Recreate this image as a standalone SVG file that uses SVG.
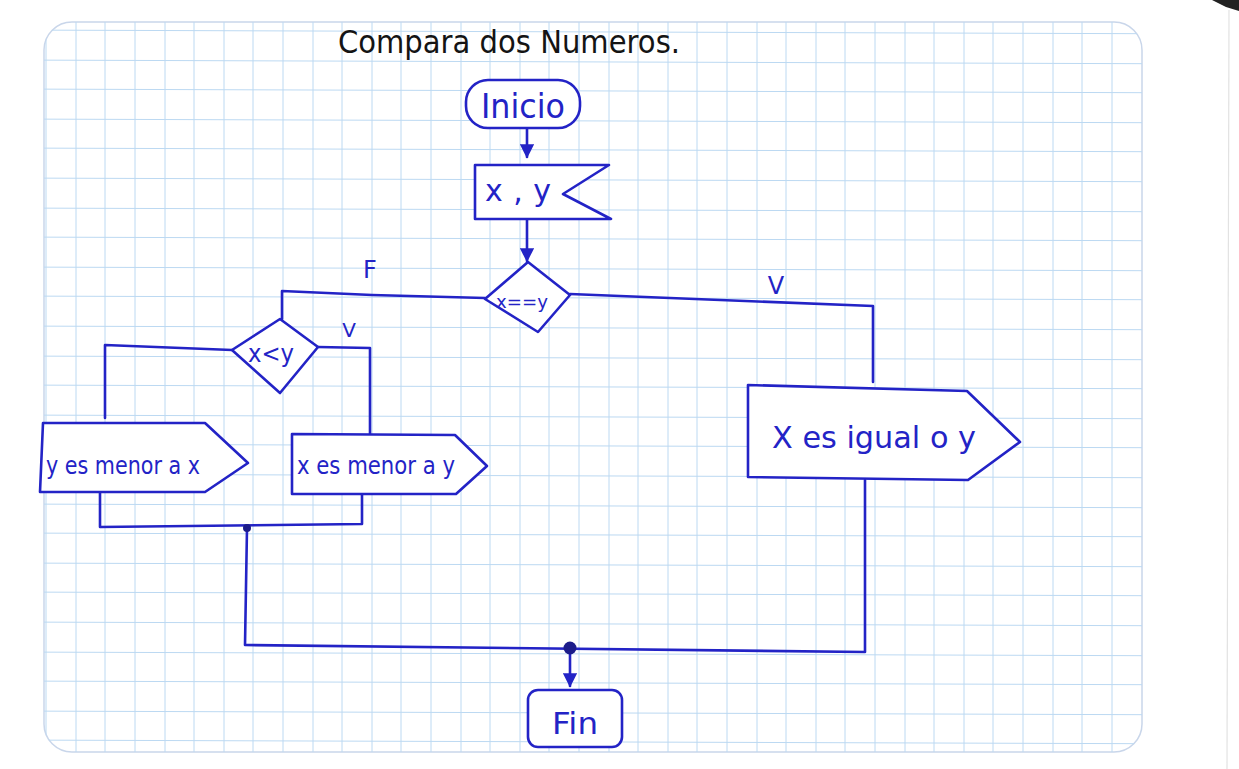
<svg xmlns="http://www.w3.org/2000/svg" width="1239" height="769" viewBox="0 0 1239 769">
<defs>
  <style>
    .grid line { stroke: #bcd9f2; stroke-width: 1; }
    .ink { fill: none; stroke: #2323c6; stroke-width: 2.6; stroke-linejoin: round; stroke-linecap: round; }
    .shape { fill: #ffffff; stroke: #2323c6; stroke-width: 2.6; stroke-linejoin: round; }
    .lbl { font-family: "DejaVu Sans", "Liberation Sans", sans-serif; fill: #2323c6; }
    .title { font-family: "DejaVu Sans", "Liberation Sans", sans-serif; fill: #141414; }
  </style>
  <marker id="arr" viewBox="0 0 10 10" refX="9" refY="5" markerWidth="5.5" markerHeight="5.5" orient="auto">
    <path d="M0,0 L10,5 L0,10 z" fill="#2323c6"/>
  </marker>
  <clipPath id="paper">
    <rect x="44" y="22" width="1098" height="730" rx="28"/>
  </clipPath>
</defs>

<rect width="1239" height="769" fill="#ffffff"/>
<polygon points="1212,0 1239,0 1239,11 1226,7" fill="#222"/>
<line x1="1229" y1="10" x2="1227" y2="769" stroke="#e2e2e2" stroke-width="1.2"/>

<g id="paper-sheet">
  <rect x="44" y="22" width="1098" height="730" rx="28" fill="#ffffff" stroke="#c9d6ea" stroke-width="1.5"/>
  <g class="grid" clip-path="url(#paper)">
    <line x1="46" y1="0" x2="46" y2="769"/><line x1="76" y1="0" x2="76" y2="769"/><line x1="105" y1="0" x2="105" y2="769"/><line x1="135" y1="0" x2="135" y2="769"/><line x1="165" y1="0" x2="165" y2="769"/><line x1="194" y1="0" x2="194" y2="769"/><line x1="224" y1="0" x2="224" y2="769"/><line x1="253" y1="0" x2="253" y2="769"/><line x1="283" y1="0" x2="283" y2="769"/><line x1="313" y1="0" x2="313" y2="769"/><line x1="342" y1="0" x2="342" y2="769"/><line x1="372" y1="0" x2="372" y2="769"/><line x1="401" y1="0" x2="401" y2="769"/><line x1="431" y1="0" x2="431" y2="769"/><line x1="461" y1="0" x2="461" y2="769"/><line x1="490" y1="0" x2="490" y2="769"/><line x1="520" y1="0" x2="520" y2="769"/><line x1="549" y1="0" x2="549" y2="769"/><line x1="579" y1="0" x2="579" y2="769"/><line x1="609" y1="0" x2="609" y2="769"/><line x1="638" y1="0" x2="638" y2="769"/><line x1="668" y1="0" x2="668" y2="769"/><line x1="697" y1="0" x2="697" y2="769"/><line x1="727" y1="0" x2="727" y2="769"/><line x1="757" y1="0" x2="757" y2="769"/><line x1="786" y1="0" x2="786" y2="769"/><line x1="816" y1="0" x2="816" y2="769"/><line x1="845" y1="0" x2="845" y2="769"/><line x1="875" y1="0" x2="875" y2="769"/><line x1="905" y1="0" x2="905" y2="769"/><line x1="934" y1="0" x2="934" y2="769"/><line x1="964" y1="0" x2="964" y2="769"/><line x1="993" y1="0" x2="993" y2="769"/><line x1="1023" y1="0" x2="1023" y2="769"/><line x1="1053" y1="0" x2="1053" y2="769"/><line x1="1082" y1="0" x2="1082" y2="769"/><line x1="1112" y1="0" x2="1112" y2="769"/>
    <line x1="0" y1="30" x2="1239" y2="34"/><line x1="0" y1="60" x2="1239" y2="64"/><line x1="0" y1="89" x2="1239" y2="93"/><line x1="0" y1="119" x2="1239" y2="123"/><line x1="0" y1="148" x2="1239" y2="152"/><line x1="0" y1="178" x2="1239" y2="182"/><line x1="0" y1="208" x2="1239" y2="212"/><line x1="0" y1="237" x2="1239" y2="241"/><line x1="0" y1="267" x2="1239" y2="271"/><line x1="0" y1="296" x2="1239" y2="300"/><line x1="0" y1="326" x2="1239" y2="330"/><line x1="0" y1="356" x2="1239" y2="360"/><line x1="0" y1="385" x2="1239" y2="389"/><line x1="0" y1="415" x2="1239" y2="419"/><line x1="0" y1="444" x2="1239" y2="448"/><line x1="0" y1="474" x2="1239" y2="478"/><line x1="0" y1="504" x2="1239" y2="508"/><line x1="0" y1="533" x2="1239" y2="537"/><line x1="0" y1="563" x2="1239" y2="567"/><line x1="0" y1="592" x2="1239" y2="596"/><line x1="0" y1="622" x2="1239" y2="626"/><line x1="0" y1="652" x2="1239" y2="656"/><line x1="0" y1="681" x2="1239" y2="685"/><line x1="0" y1="711" x2="1239" y2="715"/><line x1="0" y1="740" x2="1239" y2="744"/>
  </g>
</g>

<text class="title" x="338" y="53" font-size="32" textLength="342" lengthAdjust="spacingAndGlyphs">Compara dos Numeros.</text>

<g id="connectors">
  <line class="ink" x1="527" y1="128" x2="527" y2="157" marker-end="url(#arr)"/>
  <line class="ink" x1="527" y1="219" x2="527" y2="261" marker-end="url(#arr)"/>
  <polyline class="ink" points="485,298 372,295 282,291 282,319"/>
  <polyline class="ink" points="570,294 873,306 873,382"/>
  <polyline class="ink" points="232,350 105,345 105,418"/>
  <polyline class="ink" points="318,347 370,348 370,434"/>
  <polyline class="ink" points="100,492 100,527 362,524 362,494"/>
  <polyline class="ink" points="247,528 245,645 865,652 865,480"/>
  <line class="ink" x1="570" y1="649" x2="570" y2="686" marker-end="url(#arr)"/>
  <circle cx="247" cy="528" r="4" fill="#1c1c8a"/>
  <circle cx="570" cy="648" r="6.5" fill="#1c1c8a"/>
  <text class="lbl" x="370" y="278" font-size="24" text-anchor="middle">F</text>
  <text class="lbl" x="776" y="294" font-size="24" text-anchor="middle">V</text>
  <text class="lbl" x="349" y="337" font-size="20" text-anchor="middle">V</text>
</g>

<g id="inicio">
  <rect class="shape" x="466" y="80" width="114" height="48" rx="22"/>
  <text class="lbl" x="481" y="118" font-size="34" textLength="84" lengthAdjust="spacingAndGlyphs">Inicio</text>
</g>

<g id="entrada">
  <path class="shape" d="M475,165 L609,165 L563,194 L611,219 L475,219 Z"/>
  <text class="lbl" x="485" y="201" font-size="30" textLength="66" lengthAdjust="spacing">x , y</text>
</g>

<g id="decision-igual">
  <path class="shape" d="M528,262 L570,295 L538,332 L485,299 Z"/>
  <text class="lbl" x="496" y="308" font-size="17" textLength="52" lengthAdjust="spacingAndGlyphs">x==y</text>
</g>

<g id="decision-menor">
  <path class="shape" d="M280,319 L318,347 L280,393 L232,350 Z"/>
  <text class="lbl" x="248" y="362" font-size="24" textLength="46" lengthAdjust="spacingAndGlyphs">x&lt;y</text>
</g>

<g id="salida-y-menor">
  <path class="shape" d="M43,423 L205,423 L248,463 L205,492 L40,492 Z"/>
  <text class="lbl" x="46" y="474" font-size="24" textLength="154" lengthAdjust="spacingAndGlyphs">y es menor a x</text>
</g>

<g id="salida-x-menor">
  <path class="shape" d="M292,434 L455,435 L487,466 L456,494 L292,494 Z"/>
  <text class="lbl" x="297" y="474" font-size="24" textLength="158" lengthAdjust="spacingAndGlyphs">x es menor a y</text>
</g>

<g id="salida-igual">
  <path class="shape" d="M748,385 L967,391 L1020,442 L968,480 L748,477 Z"/>
  <text class="lbl" x="772" y="448" font-size="30" textLength="204" lengthAdjust="spacingAndGlyphs">X es igual o y</text>
</g>

<g id="fin">
  <rect class="shape" x="528" y="690" width="94" height="57" rx="10"/>
  <text class="lbl" x="552" y="734" font-size="30" textLength="46" lengthAdjust="spacingAndGlyphs">Fin</text>
</g>
</svg>
